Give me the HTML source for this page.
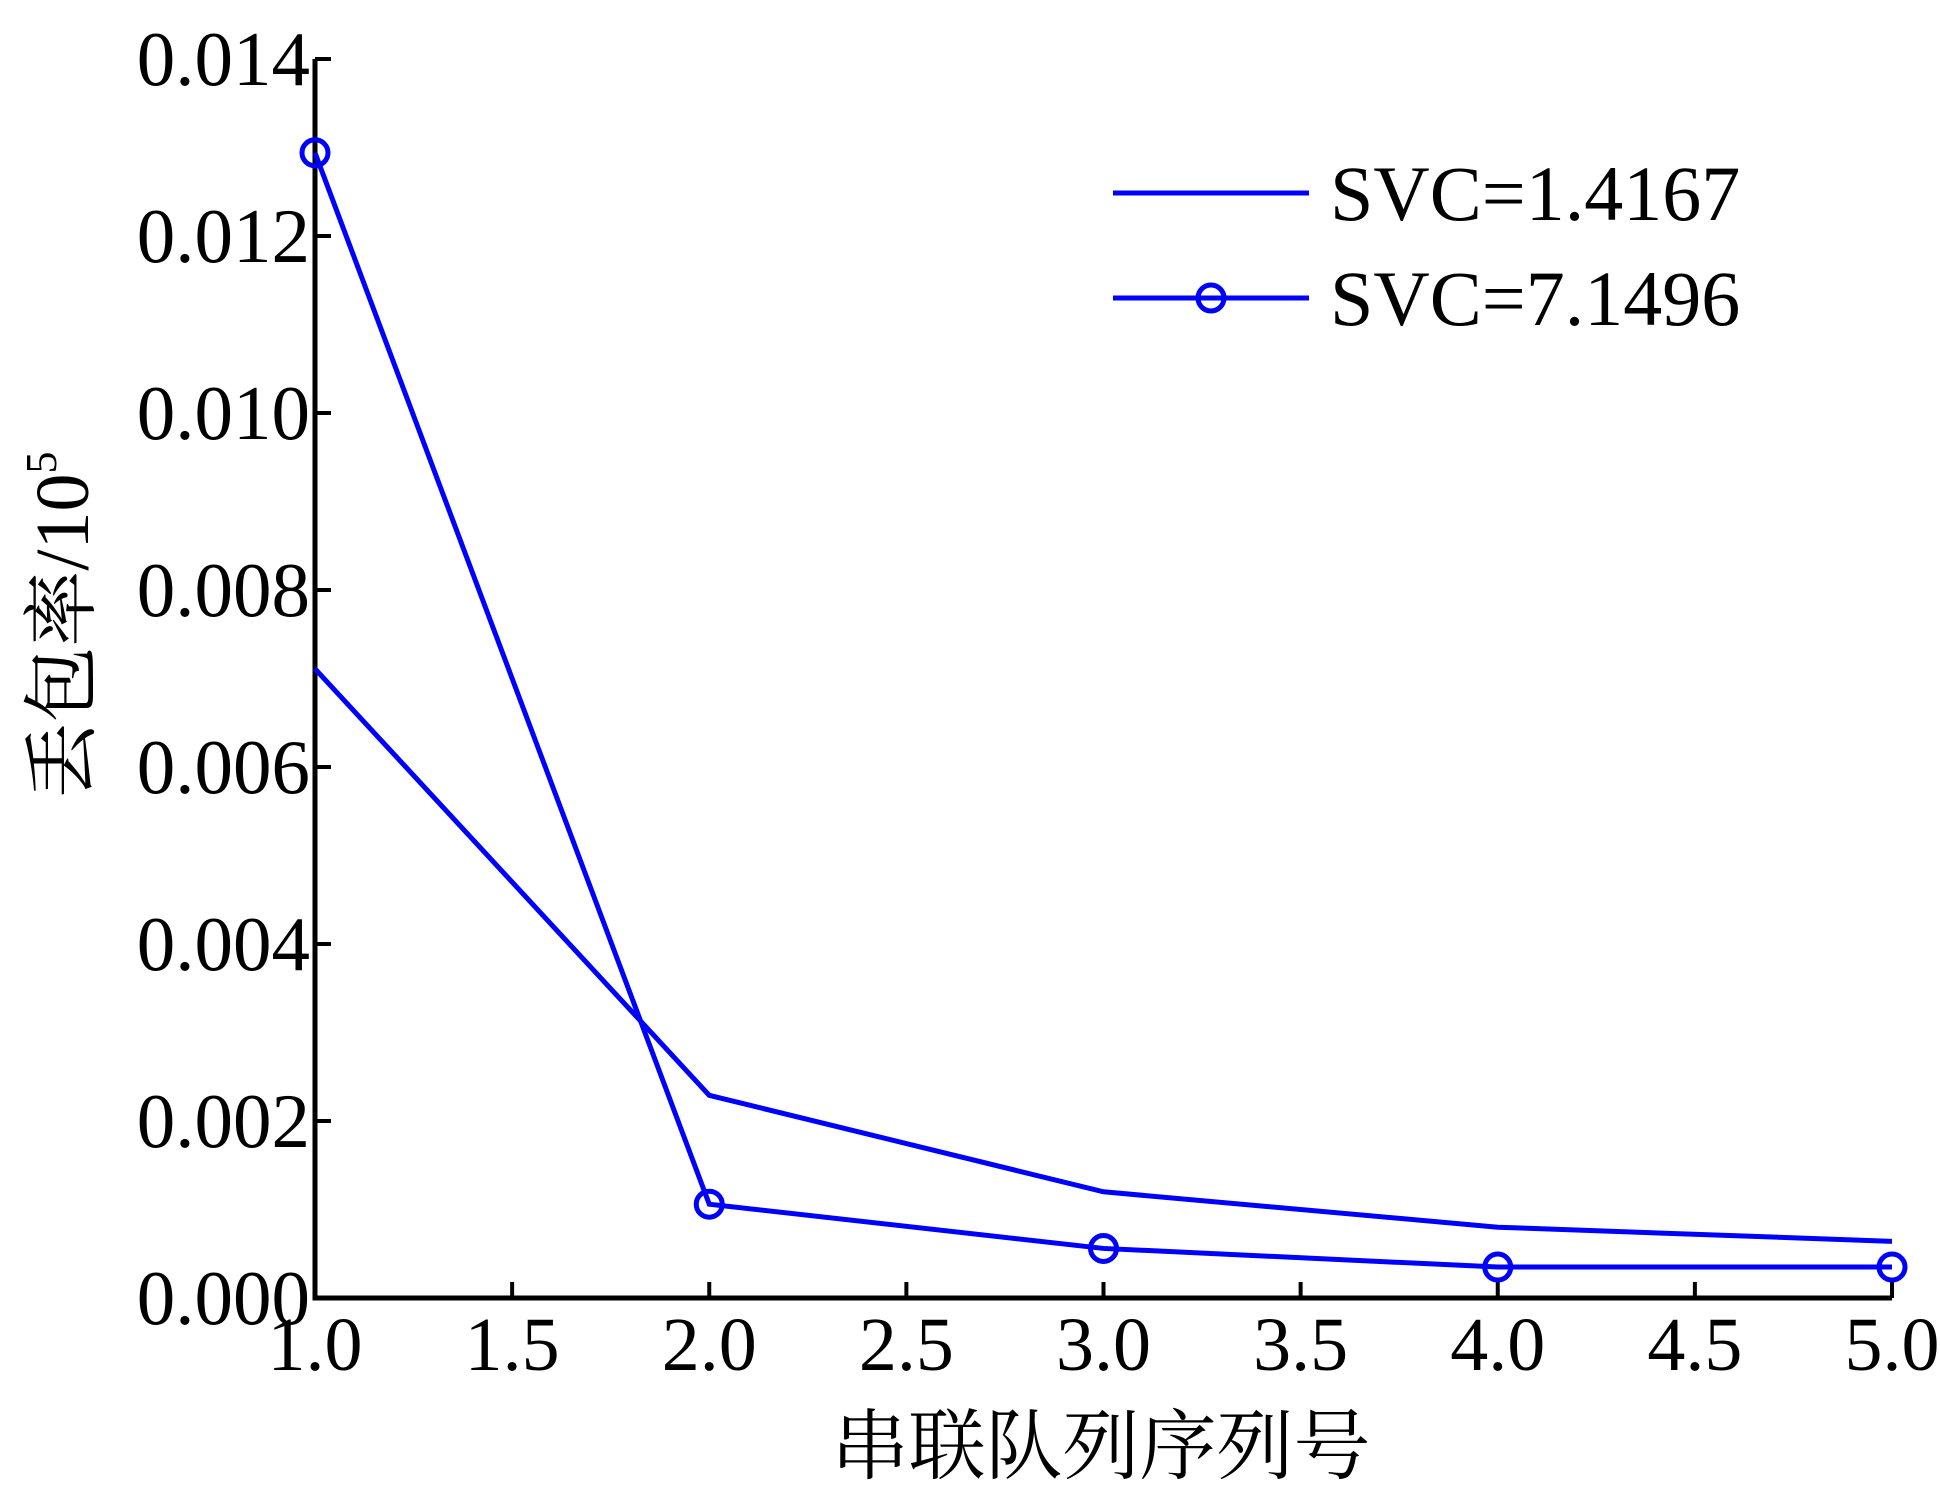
<!DOCTYPE html>
<html><head><meta charset="utf-8">
<style>
html,body{margin:0;padding:0;background:#fff;}
svg{display:block;}
text{font-family:"Liberation Serif","Noto Serif CJK SC",serif;fill:#000;}
</style></head>
<body>
<svg id="chart" width="1940" height="1499" viewBox="0 0 1940 1499" xmlns="http://www.w3.org/2000/svg"></svg>
<script>
const categories = [1, 2, 3, 4, 5];
const seriesLow = [0.00711, 0.00229, 0.00120, 0.00080, 0.00064];
const seriesHigh = [0.01294, 0.00106, 0.00056, 0.00035, 0.00035];
const xTicks = [1.0, 1.5, 2.0, 2.5, 3.0, 3.5, 4.0, 4.5, 5.0];
const yTicks = [0, 0.002, 0.004, 0.006, 0.008, 0.010, 0.012, 0.014];
const legendLabels = ["SVC=1.4167", "SVC=7.1496"];

const NS = "http://www.w3.org/2000/svg";
const svg = document.getElementById('chart');
const X0 = 315, X1 = 1892, Y0 = 1298, Y1 = 59;
const xs = v => X0 + (v - 1) / 4 * (X1 - X0);
const ys = v => Y0 - v / 0.014 * (Y0 - Y1);
function mk(tag, attrs, parent) {
  const e = document.createElementNS(NS, tag);
  for (const k in attrs) e.setAttribute(k, attrs[k]);
  (parent || svg).appendChild(e);
  return e;
}
const BLUE = "#0000ff";

let ax = mk('path', {d: `M${X0} ${Y1} L${X0} ${Y0} L${X1} ${Y0}`, fill: 'none', stroke: '#000', 'stroke-width': 5});



xTicks.forEach(t => {
  const x = xs(t);
  const tk = mk('line', {x1: x, y1: Y0, x2: x, y2: Y0 - 16, stroke: '#000', 'stroke-width': 4});
  
  
  const lb = mk('text', {x: x, y: 1370, 'font-size': 76, 'text-anchor': 'middle'});
  lb.textContent = t.toFixed(1);
  
  
});
yTicks.forEach(t => {
  const y = ys(t);
  const tk = mk('line', {x1: X0, y1: y, x2: X0 + 16, y2: y, stroke: '#000', 'stroke-width': 4});
  
  
  const lb = mk('text', {x: 310, y: y + 26, 'font-size': 77, 'text-anchor': 'end'});
  lb.textContent = t.toFixed(3);
  
  
});

const xt = mk('text', {x: 1101, y: 1473, 'font-size': 77, 'text-anchor': 'middle'});
xt.textContent = '串联队列序列号';


const yt = mk('text', {x: 0, y: 0, 'font-size': 76, 'text-anchor': 'middle', transform: 'translate(88,625) rotate(-90)'});
yt.innerHTML = '丢包率/10<tspan dy="-32" font-size="44">5</tspan>';



const p1 = mk('polyline', {points: categories.map((c, i) => xs(c) + ',' + ys(seriesLow[i])).join(' '), fill: 'none', stroke: BLUE, 'stroke-width': 5});


const p2 = mk('polyline', {points: categories.map((c, i) => xs(c) + ',' + ys(seriesHigh[i])).join(' '), fill: 'none', stroke: BLUE, 'stroke-width': 5});


categories.forEach((c, i) => {
  const m = mk('circle', {cx: xs(c), cy: ys(seriesHigh[i]), r: 13, fill: 'none', stroke: BLUE, 'stroke-width': 5});
  
  
});

const lg = mk('g', {});


[193, 298].forEach((y, i) => {
  const l = mk('line', {x1: 1113, y1: y, x2: 1309, y2: y, stroke: BLUE, 'stroke-width': 5}, lg);
  
  
  if (i === 1) {
    const c = mk('circle', {cx: 1211, cy: y, r: 13, fill: 'none', stroke: BLUE, 'stroke-width': 5}, lg);
    
    
  }
  const t = mk('text', {x: 1330, y: y + 27, 'font-size': 78}, lg);
  t.textContent = legendLabels[i];
  
  
});
</script>
</body></html>
